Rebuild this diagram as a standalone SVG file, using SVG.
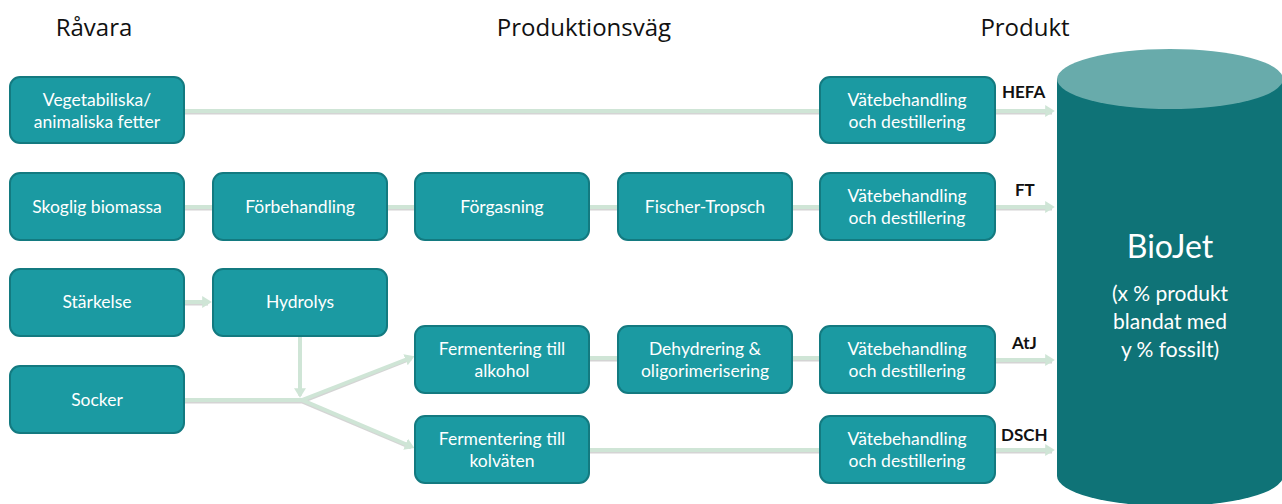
<svg xmlns="http://www.w3.org/2000/svg" width="1282" height="504" viewBox="0 0 1282 504">
<defs>
<style>
.box{fill:#1b9aa2;stroke:#137a80;stroke-width:2}
.bt{font-family:Lato,"Open Sans",sans-serif;font-size:17.5px;fill:#fff;text-anchor:middle}
.h{font-family:"Open Sans",Lato,sans-serif;font-size:24px;fill:#111;text-anchor:middle}
.lbl{font-family:Lato,"Open Sans",sans-serif;font-size:17px;font-weight:bold;fill:#111}
.c{fill:none;stroke:#cfe5d6;stroke-width:4}
.cs{fill:none;stroke:#b8b8b8;stroke-width:4;opacity:0.6}
</style>
<marker id="ah" markerWidth="3" markerHeight="3" refX="1.2" refY="1.5" orient="auto" markerUnits="strokeWidth">
<path d="M0,0 L2.4,1.5 L0,3 Z" fill="#cfe5d6"/>
</marker>
</defs>
<rect width="1282" height="504" fill="#fff"/>
<text class="h" x="94" y="36">Råvara</text>
<text class="h" x="584" y="36">Produktionsväg</text>
<text class="h" x="1025" y="36">Produkt</text>

<g id="connectors">
<g transform="translate(0,1.5)">
<path class="cs" d="M184,111 H820 M995,111 H1052 M184,207 H820 M995,207 H1052 M184,302 H208 M300,336 V394 M184,400 H302 L411,357 M302,400 L411,446 M588,358 H618 M791,358 H820 M995,360 H1052 M588,450 H820 M995,450 H1052"/>
</g>
<path class="c" d="M184,111 H820"/>
<path class="c" d="M995,111 H1050" marker-end="url(#ah)"/>
<path class="c" d="M184,207 H820"/>
<path class="c" d="M995,207 H1050" marker-end="url(#ah)"/>
<path class="c" d="M184,302 H207" marker-end="url(#ah)"/>
<path class="c" d="M300,336 V393" marker-end="url(#ah)"/>
<path class="c" d="M184,400 H302"/>
<path class="c" d="M302,400 L410,358" marker-end="url(#ah)"/>
<path class="c" d="M302,400 L410,446" marker-end="url(#ah)"/>
<path class="c" d="M588,358 H820"/>
<path class="c" d="M995,360 H1050" marker-end="url(#ah)"/>
<path class="c" d="M588,450 H820"/>
<path class="c" d="M995,450 H1050" marker-end="url(#ah)"/>
</g>

<g id="n-veg"><rect class="box" x="10" y="77" width="174" height="66" rx="10"/><text class="bt" x="97" y="106">Vegetabiliska/</text><text class="bt" x="97" y="128">animaliska fetter</text></g>
<g id="n-skog"><rect class="box" x="10" y="173" width="174" height="67" rx="10"/><text class="bt" x="97" y="213">Skoglig biomassa</text></g>
<g id="n-forb"><rect class="box" x="213" y="173" width="174" height="67" rx="10"/><text class="bt" x="300" y="213">Förbehandling</text></g>
<g id="n-forg"><rect class="box" x="415" y="173" width="174" height="67" rx="10"/><text class="bt" x="502" y="213">Förgasning</text></g>
<g id="n-ft"><rect class="box" x="618" y="173" width="174" height="67" rx="10"/><text class="bt" x="705" y="213">Fischer-Tropsch</text></g>
<g id="n-stark"><rect class="box" x="10" y="269" width="174" height="67" rx="10"/><text class="bt" x="97" y="308">Stärkelse</text></g>
<g id="n-hydro"><rect class="box" x="213" y="269" width="174" height="67" rx="10"/><text class="bt" x="300" y="308">Hydrolys</text></g>
<g id="n-socker"><rect class="box" x="10" y="366" width="174" height="67" rx="10"/><text class="bt" x="97" y="406">Socker</text></g>
<g id="n-ferm-alk"><rect class="box" x="415" y="326" width="174" height="67" rx="10"/><text class="bt" x="502" y="355">Fermentering till</text><text class="bt" x="502" y="377">alkohol</text></g>
<g id="n-dehyd"><rect class="box" x="618" y="326" width="174" height="67" rx="10"/><text class="bt" x="705" y="355">Dehydrering &amp;</text><text class="bt" x="705" y="377">oligorimerisering</text></g>
<g id="n-ferm-kol"><rect class="box" x="415" y="416" width="174" height="67" rx="10"/><text class="bt" x="502" y="445">Fermentering till</text><text class="bt" x="502" y="467">kolväten</text></g>
<g id="n-vate1"><rect class="box" x="820" y="77" width="175" height="66" rx="10"/><text class="bt" x="907" y="106">Vätebehandling</text><text class="bt" x="907" y="128">och destillering</text></g>
<g id="n-vate2"><rect class="box" x="820" y="173" width="175" height="67" rx="10"/><text class="bt" x="907" y="202">Vätebehandling</text><text class="bt" x="907" y="224">och destillering</text></g>
<g id="n-vate3"><rect class="box" x="820" y="326" width="175" height="67" rx="10"/><text class="bt" x="907" y="355">Vätebehandling</text><text class="bt" x="907" y="377">och destillering</text></g>
<g id="n-vate4"><rect class="box" x="820" y="416" width="175" height="67" rx="10"/><text class="bt" x="907" y="445">Vätebehandling</text><text class="bt" x="907" y="467">och destillering</text></g>

<text class="lbl" x="1002" y="98">HEFA</text>
<text class="lbl" x="1015" y="196">FT</text>
<text class="lbl" x="1012" y="349">AtJ</text>
<text class="lbl" x="1001" y="441">DSCH</text>

<g id="n-biojet">
<path d="M1057,79 V476 A113,30 0 0 0 1283,476 V79 Z" fill="#0f7377"/>
<ellipse cx="1170" cy="79" rx="113" ry="30" fill="#68abab"/>
<text x="1170" y="258" font-family="Lato,'Open Sans',sans-serif" font-size="32" fill="#fff" text-anchor="middle">BioJet</text>
<text class="bt" x="1170" y="301" style="font-size:21px">(x % produkt</text>
<text class="bt" x="1170" y="329" style="font-size:21px">blandat med</text>
<text class="bt" x="1170" y="357" style="font-size:21px">y % fossilt)</text>
</g>
</svg>
